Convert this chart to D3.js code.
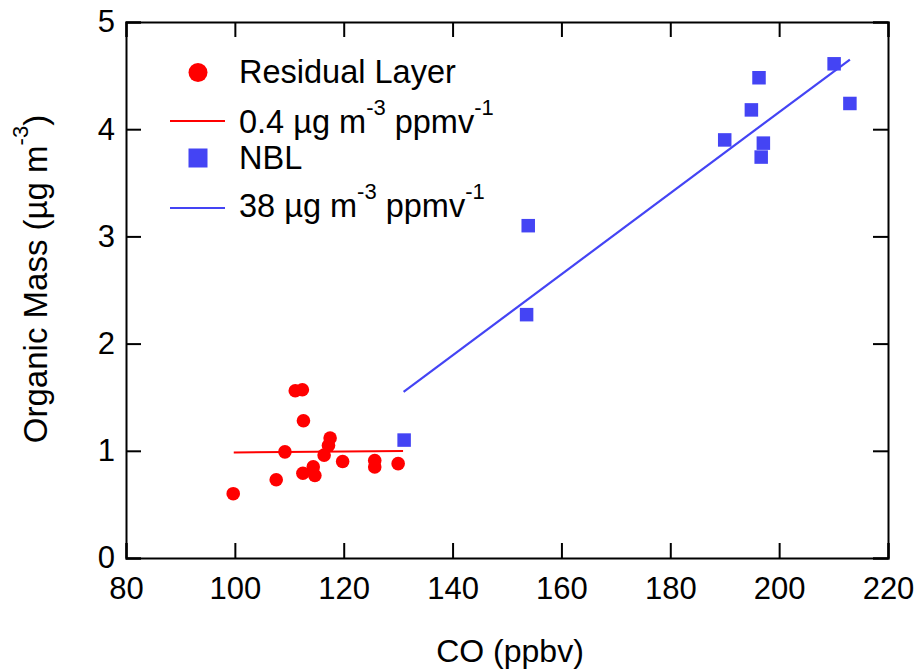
<!DOCTYPE html>
<html><head><meta charset="utf-8">
<script src="https://cdn.jsdelivr.net/npm/d3@7"></script>
<style>body{margin:0;background:#fff}svg{display:block}text{font-family:"Liberation Sans",Arial,sans-serif;fill:#000}</style>
</head><body><svg id="c" width="917" height="670"></svg>
<script>
const residualCO = [99.7,107.6,109.2,111.1,112.4,112.6,112.5,114.4,114.7,116.4,117.2,117.5,119.8,125.7,125.7,130.0];
const residualOM = [0.60,0.73,0.99,1.56,1.57,1.28,0.79,0.85,0.77,0.96,1.05,1.12,0.90,0.91,0.85,0.88];
const nblCO = [131.1,153.9,153.6,196.3,194.9,190.0,197.1,196.7,210.1,213.0];
const nblOM = [1.10,3.10,2.27,4.48,4.18,3.90,3.87,3.74,4.61,4.24];
const residualFit = [[99.8,0.985],[130.9,0.997]];
const nblFit = [[131.0,1.55],[213.0,4.65]];
const xTicks = [80,100,120,140,160,180,200,220];
const yTicks = [0,1,2,3,4,5];

const svg = d3.select("#c");
const m = {l:126, r:888, t:22, b:558};
const x = d3.scaleLinear().domain([80,220]).range([m.l,m.r]);
const y = d3.scaleLinear().domain([0,5]).range([m.b,m.t]);
const red = "#ff0000", blue = "#4444f4";
const tl = 15;

// axes
const ax = svg.append("g");
ax.append("g").attr("transform",`translate(0,${m.b})`)
  .call(d3.axisBottom(x).tickValues(xTicks).tickSize(-tl).tickPadding(19).tickFormat(d3.format("d")));
ax.append("g").attr("transform",`translate(0,${m.t})`)
  .call(d3.axisTop(x).tickValues(xTicks).tickSize(-tl).tickFormat(""));
ax.append("g").attr("transform",`translate(${m.l},0)`)
  .call(d3.axisLeft(y).tickValues(yTicks).tickSize(-tl).tickPadding(11).tickFormat(d3.format("d")));
ax.append("g").attr("transform",`translate(${m.r},0)`)
  .call(d3.axisRight(y).tickValues(yTicks).tickSize(-tl).tickFormat(""));
ax.selectAll(".domain").attr("stroke","#000").attr("stroke-width",2);
ax.selectAll(".tick line").attr("stroke","#000").attr("stroke-width",2);
ax.selectAll(".tick text").attr("font-size",31).attr("font-family",'"Liberation Sans",Arial,sans-serif').attr("fill","#000");

// fit lines
const line = d3.line().x(d=>x(d[0])).y(d=>y(d[1]));
svg.append("path").datum(residualFit).attr("d",line).attr("stroke",red).attr("stroke-width",2).attr("fill","none");
svg.append("path").datum(nblFit).attr("d",line).attr("stroke",blue).attr("stroke-width",2.2).attr("fill","none");

// points
svg.append("g").selectAll("circle").data(residualCO.map((c,i)=>[c,residualOM[i]])).join("circle")
  .attr("cx",d=>x(d[0])).attr("cy",d=>y(d[1])).attr("r",6.8).attr("fill",red);
const s = 13.5;
svg.append("g").selectAll("rect").data(nblCO.map((c,i)=>[c,nblOM[i]])).join("rect")
  .attr("x",d=>x(d[0])-s/2).attr("y",d=>y(d[1])-s/2).attr("width",s).attr("height",s).attr("fill",blue);

// legend
const lg = svg.append("g");
const fs = 32.5, ss = 22;
lg.append("circle").attr("cx",198).attr("cy",72.5).attr("r",9.5).attr("fill",red);
lg.append("text").attr("x",239).attr("y",83).attr("font-size",fs).text("Residual Layer");
lg.append("line").attr("x1",170).attr("x2",225).attr("y1",121).attr("y2",121).attr("stroke",red).attr("stroke-width",2);
function unitText(t, txt, yb){
  const e = t.append("text").attr("x",239).attr("y",yb).attr("font-size",fs);
  e.append("tspan").text(txt+" µg m");
  e.append("tspan").attr("font-size",ss).attr("dy",-18).text("-3");
  e.append("tspan").attr("dy",18).text(" ppmv");
  e.append("tspan").attr("font-size",ss).attr("dy",-18).text("-1");
}
unitText(lg,"0.4",133);
lg.append("rect").attr("x",188.5).attr("y",148.5).attr("width",19).attr("height",19).attr("fill",blue);
lg.append("text").attr("x",239).attr("y",169).attr("font-size",fs).text("NBL");
lg.append("line").attr("x1",170).attr("x2",225).attr("y1",208).attr("y2",208).attr("stroke",blue).attr("stroke-width",2);
unitText(lg,"38",217);

// axis titles
svg.append("text").attr("x",510).attr("y",662).attr("text-anchor","middle").attr("font-size",32).text("CO (ppbv)");
const yt = svg.append("text").attr("transform","translate(47,279) rotate(-90)").attr("text-anchor","middle").attr("font-size",33);
yt.append("tspan").text("Organic Mass (µg m");
yt.append("tspan").attr("font-size",22).attr("dy",-19).text("-3");
yt.append("tspan").attr("dy",19).text(")");
</script></body></html>
